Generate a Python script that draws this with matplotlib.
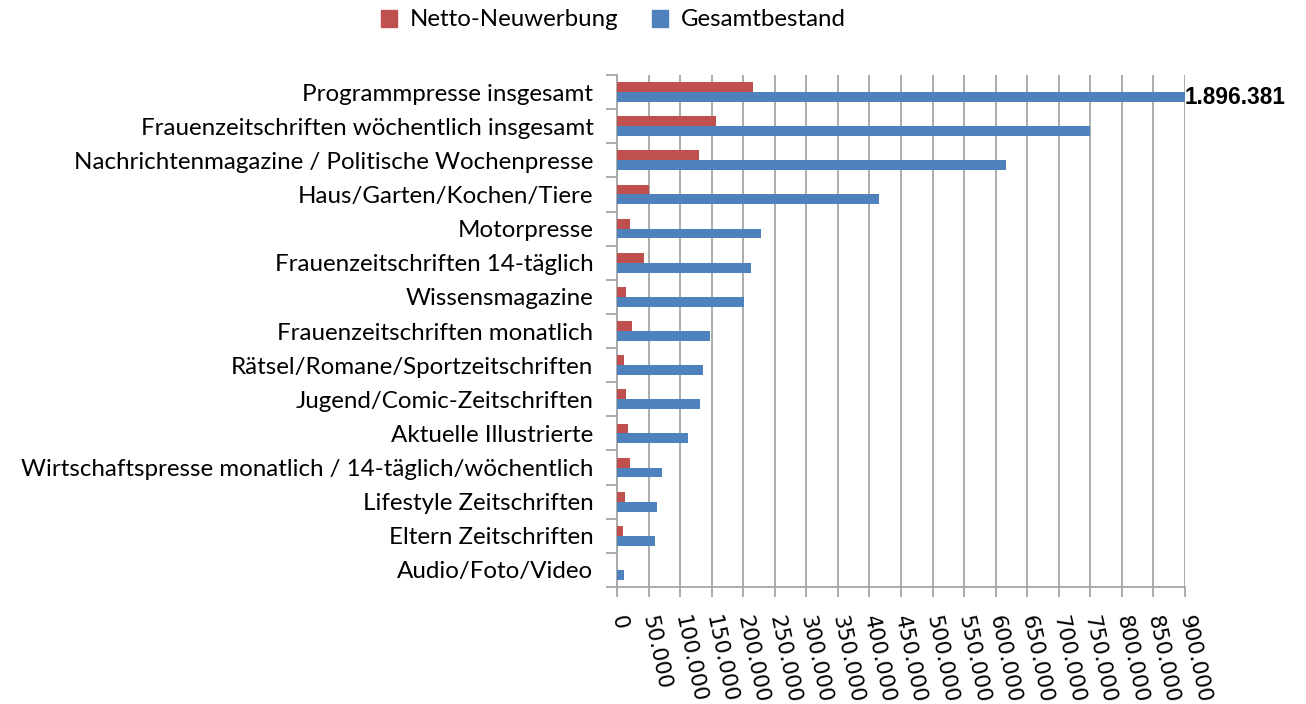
import numpy as np
import matplotlib
matplotlib.use("Agg")
import matplotlib.pyplot as plt
from matplotlib.patches import Patch

# --- datos ---
kategorien = [
    "Programmpresse insgesamt",
    "Frauenzeitschriften wöchentlich insgesamt",
    "Nachrichtenmagazine / Politische Wochenpresse",
    "Haus/Garten/Kochen/Tiere",
    "Motorpresse",
    "Frauenzeitschriften 14-täglich",
    "Wissensmagazine",
    "Frauenzeitschriften monatlich",
    "Rätsel/Romane/Sportzeitschriften",
    "Jugend/Comic-Zeitschriften",
    "Aktuelle Illustrierte",
    "Wirtschaftspresse monatlich / 14-täglich/wöchentlich",
    "Lifestyle Zeitschriften",
    "Eltern Zeitschriften",
    "Audio/Foto/Video",
]
netto_neuwerbung = [216000, 157000, 130000, 51000, 21000, 43000, 15000, 23000,
                    10500, 15000, 17000, 21000, 13000, 9000, 0]
gesamtbestand = [1896381, 750000, 617000, 415500, 228000, 212000, 202000, 147000,
                 137000, 131000, 112000, 72000, 64000, 61000, 10500]
x_ticks = list(range(0, 900001, 50000))
x_labels = ["0"] + [f"{v // 1000}.000" for v in x_ticks[1:]]

rot = "#C0504D"
blau = "#4F81BD"
grau = "#A6A6A6"

fig = plt.figure(figsize=(13.06, 7.04), dpi=100)
ax = fig.add_axes([617 / 1306, 1 - 587 / 704, 568 / 1306, 512 / 704])

y = np.arange(len(kategorien))
h = 0.29
ax.barh(y - h / 2, netto_neuwerbung, height=h, color=rot, zorder=3)
ax.barh(y + h / 2, gesamtbestand, height=h, color=blau, zorder=3)

ax.set_xlim(0, 900000)
ax.set_ylim(len(kategorien) - 0.5, -0.5)

# --- achsen ---
ax.set_xticks(x_ticks)
ax.set_xticklabels(x_labels, rotation=-78, rotation_mode="anchor",
                   ha="left", va="center", fontsize=15.5, family="DejaVu Sans")
ax.set_yticks(y)
ax.set_yticklabels(kategorien, fontsize=17.4, family="Lato")
ax.set_yticks(np.arange(len(kategorien) + 1) - 0.5, minor=True)
ax.tick_params(axis="y", which="major", length=0, pad=17)
ax.tick_params(axis="y", which="minor", length=8, color=grau, width=1.3)
ax.tick_params(axis="x", length=7, color=grau, width=1.3, pad=14)

ax.grid(axis="x", color=grau, linewidth=1.3, zorder=0)
for s in ["top", "right"]:
    ax.spines[s].set_visible(False)
for s in ["left", "bottom"]:
    ax.spines[s].set_color(grau)
    ax.spines[s].set_linewidth(1.3)

# --- etiqueta del valor recortado ---
ax.text(900000, y[0] + h / 2, "1.896.381", fontsize=16.3, fontweight="bold",
        family="Liberation Sans", ha="left", va="center", clip_on=False)

# --- leyenda ---
handles = [Patch(color=rot, label="Netto-Neuwerbung"),
           Patch(color=blau, label="Gesamtbestand")]
fig.legend(handles=handles, loc="center", bbox_to_anchor=(613 / 1306, 1 - 20 / 704),
           ncol=2, frameon=False, prop={"family": "Lato", "size": 17.3},
           handlelength=0.7, handleheight=0.7, handletextpad=0.5, columnspacing=1.4)

fig.savefig("out.png", dpi=100)
